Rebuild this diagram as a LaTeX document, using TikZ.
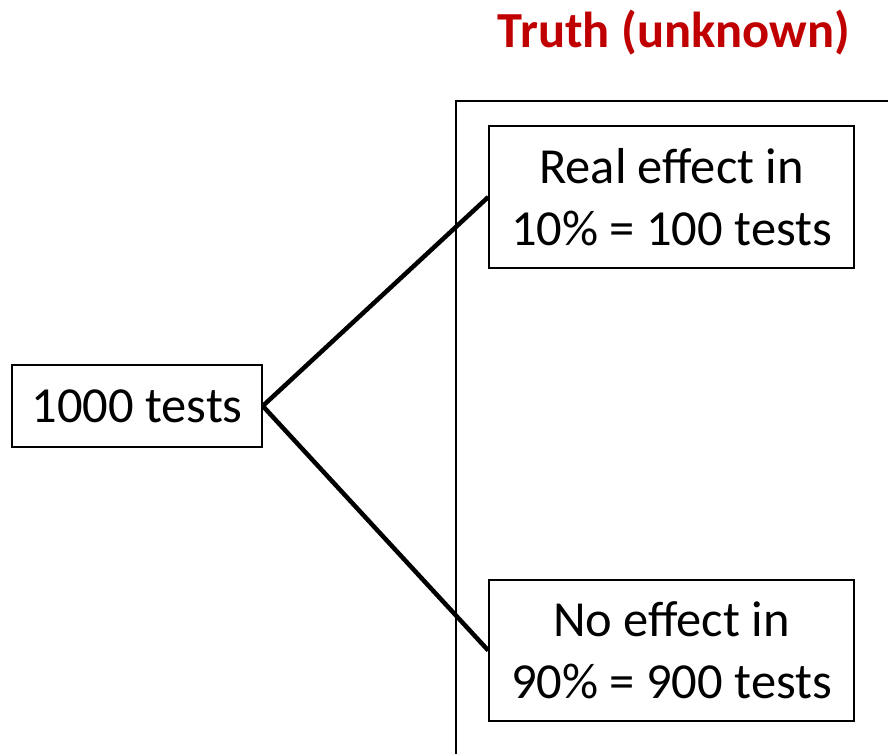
\documentclass[tikz,border=0pt]{standalone}
\usepackage{fontspec}
\setmainfont{Carlito}
\definecolor{truthred}{HTML}{C00000}
\begin{document}
\begin{tikzpicture}[x=1pt,y=-1pt,
  box/.style={draw=black,line width=1.5pt,fill=white,align=center,inner sep=0pt,
    font=\fontsize{50.5}{62}\selectfont},
  link/.style={draw=black,line width=4.5pt}]
\useasboundingbox (0,0) rectangle (888,754);
\fill[white] (0,0) rectangle (888,754);
% frame
\draw[line width=1.5pt] (456,760) -- (456,101) -- (895,101);
\node[font=\fontsize{50.5}{60}\selectfont\bfseries,text=truthred] (title) at (674,33) {Truth (unknown)};
\node[box,minimum width=250,minimum height=82] (all) at (137,406) {1000 tests};
\node[box,minimum width=365,minimum height=142] (real) at (671.5,197) {Real effect in\\10\% = 100 tests};
\node[box,minimum width=365,minimum height=141] (none) at (671.5,650.5) {No effect in\\90\% = 900 tests};
\draw[link] (all.east) -- (real.west);
\draw[link] (all.east) -- (none.west);
\end{tikzpicture}
\end{document}
